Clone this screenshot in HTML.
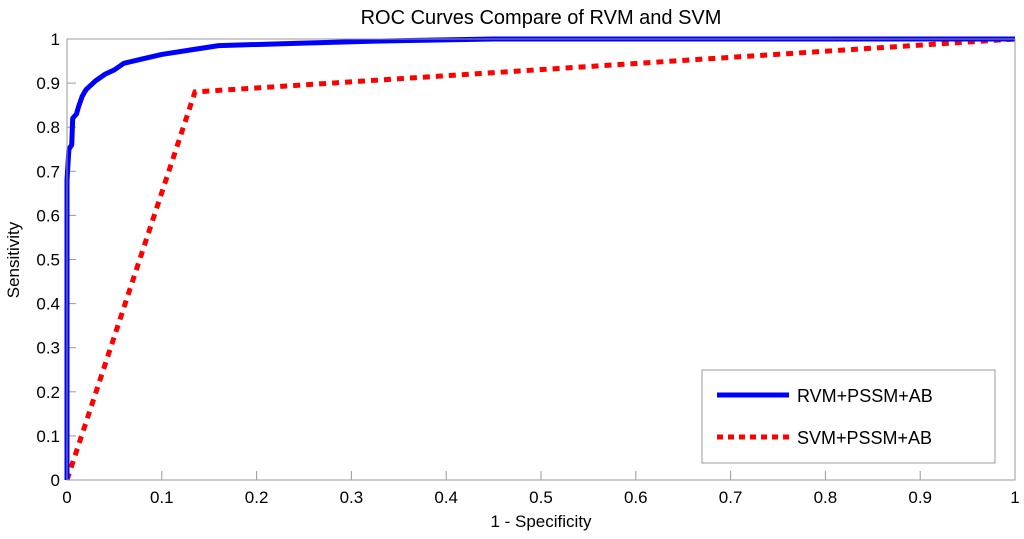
<!DOCTYPE html>
<html><head><meta charset="utf-8"><style>
body{margin:0;background:#fff;}
svg text{font-family:"Liberation Sans",Arial,sans-serif;fill:#000;}
</style></head><body>
<svg id="chart" width="1024" height="534" viewBox="0 0 1024 534">
<rect x="0" y="0" width="1024" height="534" fill="#fff"/>
<text x="541" y="24" font-size="20" text-anchor="middle">ROC Curves  Compare  of  RVM and SVM</text>
<text x="541" y="527" font-size="17" text-anchor="middle">1 - Specificity</text>
<text x="19" y="260" font-size="17" text-anchor="middle" transform="rotate(-90 19 260)">Sensitivity</text>
<g id="ticks"></g>
<g id="series"></g>
<rect x="67" y="39" width="948" height="441" fill="none" stroke="#999" stroke-width="1"/>
<g>
<rect x="702" y="370" width="293" height="93" fill="#fff" stroke="#999" stroke-width="1"/>
<line x1="717" y1="395" x2="789" y2="395" stroke="#0000ff" stroke-width="5"/>
<text x="797" y="402" font-size="18">RVM+PSSM+AB</text>
<line x1="717" y1="437" x2="789" y2="437" stroke="#ff0000" stroke-width="5" stroke-dasharray="6,5"/>
<text x="797" y="444" font-size="18">SVM+PSSM+AB</text>
</g>
</svg>
<script>
const xTicks=[0,0.1,0.2,0.3,0.4,0.5,0.6,0.7,0.8,0.9,1];
const yTicks=[0,0.1,0.2,0.3,0.4,0.5,0.6,0.7,0.8,0.9,1];
const rvmFpr=[0,0,0.002,0.005,0.006,0.01,0.012,0.016,0.02,0.03,0.04,0.05,0.06,0.08,0.1,0.13,0.16,0.24,0.32,0.45,1];
const rvmTpr=[0,0.68,0.75,0.76,0.82,0.83,0.845,0.87,0.885,0.905,0.92,0.93,0.945,0.955,0.965,0.975,0.985,0.99,0.995,1,1];
const svmFpr=[0,0.135,1];
const svmTpr=[0,0.88,1];
const NS='http://www.w3.org/2000/svg';
const X=v=>67+v*948, Y=v=>480-v*441;
const tg=document.getElementById('ticks'), sg=document.getElementById('series');
function mk(tag,attrs,parent){const e=document.createElementNS(NS,tag);for(const k in attrs)e.setAttribute(k,attrs[k]);parent.appendChild(e);return e;}
xTicks.forEach(v=>{
  const l=mk('line',{x1:X(v),x2:X(v),y1:480,y2:471,stroke:'#999'},tg);
  
  
  const t=mk('text',{x:X(v),y:503,'font-size':17,'text-anchor':'middle'},tg);
  t.textContent=String(v);
  
  
});
yTicks.forEach(v=>{
  const l=mk('line',{x1:67,x2:76,y1:Y(v),y2:Y(v),stroke:'#999'},tg);
  
  
  const t=mk('text',{x:60,y:Y(v)+6,'font-size':17,'text-anchor':'end'},tg);
  t.textContent=String(v);
  
  
});
function pts(xs,ys){return xs.map((x,i)=>X(x)+','+Y(ys[i])).join(' ');}
const svm=mk('polyline',{points:pts(svmFpr,svmTpr),fill:'none',stroke:'#ff0000','stroke-width':5,'stroke-dasharray':'7,6'},sg);


const rvm=mk('polyline',{points:pts(rvmFpr,rvmTpr),fill:'none',stroke:'#0000ff','stroke-width':5,'stroke-linejoin':'round'},sg);


</script>
</body></html>
